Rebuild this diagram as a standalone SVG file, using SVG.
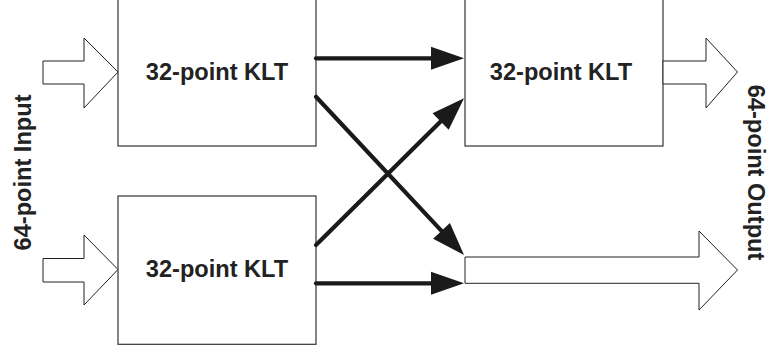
<svg xmlns="http://www.w3.org/2000/svg" width="767" height="351" viewBox="0 0 767 351">
  <style>
    .box { fill: #ffffff; stroke: #333333; stroke-width: 1.2; }
    .hollow { fill: #ffffff; stroke: #222222; stroke-width: 1; stroke-linejoin: miter; }
    .label { font-family: "Liberation Sans", Arial, sans-serif; font-weight: bold; font-size: 23.6px; fill: #222222; text-anchor: middle; }
    .flow { stroke: #1a1a1a; stroke-width: 4.2; stroke-linecap: round; fill: none; marker-end: url(#head); }
  </style>
  <defs>
    <marker id="head" markerUnits="userSpaceOnUse" markerWidth="34" markerHeight="24" refX="0" refY="11.5" orient="auto" overflow="visible">
      <path d="M0,0 L33,11.5 L0,23 z" fill="#1a1a1a"/>
    </marker>
  </defs>

  <rect width="767" height="351" fill="#ffffff"/>

  <!-- input arrows -->
  <g id="input-top">
    <polygon class="hollow" points="43,61 84,61 84,38 118,72 84,108 84,84 43,84"/>
  </g>
  <g id="input-bottom">
    <polygon class="hollow" points="43,258.5 84,258.5 84,235 118,269.5 84,305 84,282 43,282"/>
  </g>

  <!-- transform blocks -->
  <g id="klt-top-left">
    <rect class="box" x="118" y="-3" width="198" height="149"/>
    <text class="label" x="217" y="80">32-point KLT</text>
  </g>
  <g id="klt-bottom-left">
    <rect class="box" x="118" y="196" width="198" height="148.3"/>
    <text class="label" x="217" y="277.3">32-point KLT</text>
  </g>
  <g id="klt-top-right">
    <rect class="box" x="465" y="-3" width="198" height="149"/>
    <text class="label" x="561" y="80">32-point KLT</text>
  </g>

  <!-- output arrows -->
  <g id="output-top">
    <polygon class="hollow" points="663,61 706,61 706,38 737.5,72 706,108 706,84 663,84"/>
  </g>
  <g id="output-bottom">
    <polygon class="hollow" points="465,257 699,257 699,231 737.5,270 699,310 699,283.3 465,283.3"/>
  </g>

  <!-- side labels -->
  <g id="label-input">
    <text class="label" transform="translate(30.5,172.5) rotate(-90)">64-point Input</text>
  </g>
  <g id="label-output">
    <text class="label" transform="translate(748,172.5) rotate(90)">64-point Output</text>
  </g>

  <!-- butterfly connections -->
  <g id="connectors">
    <line class="flow" x1="316" y1="58.3" x2="431" y2="58.3"/>
    <line class="flow" x1="316" y1="96.7" x2="441.5" y2="230.9"/>
    <line class="flow" x1="316" y1="245" x2="440.6" y2="121.5"/>
    <line class="flow" x1="316" y1="283.3" x2="431" y2="283.3"/>
  </g>
</svg>
